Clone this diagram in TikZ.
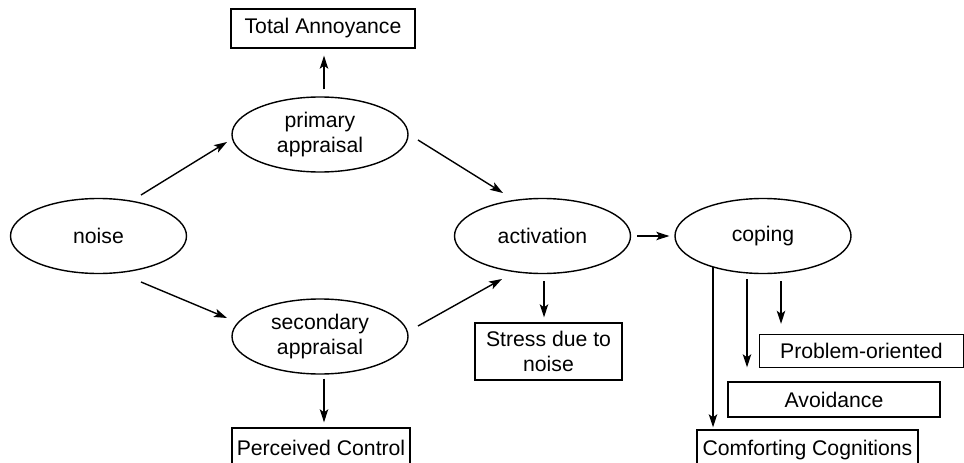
\documentclass[tikz,border=0pt]{standalone}
\usepackage{fontspec}
\setmainfont{Liberation Sans}
\usetikzlibrary{shapes.geometric,arrows.meta}
\begin{document}
\begin{tikzpicture}[x=1pt,y=-1pt,
  every node/.style={font=\fontsize{21.2}{25}\selectfont, align=center},
  oval/.style={draw, ellipse, line width=1.4pt, inner sep=0pt, minimum width=176pt, minimum height=75pt},
  boxnode/.style={draw, rectangle, line width=1.4pt, inner sep=0pt},
  arr/.style={line width=1.4pt, -{Stealth[length=13pt,width=8.5pt,inset=3pt]}}]
\clip (0,0) rectangle (964,463);
\fill[white] (0,0) rectangle (964,463);
% ellipses
\node[oval] (noise) at (98.5,236) {noise};
\node[oval] (pa) at (320,134.5) {primary\\appraisal};
\node[oval] (sa) at (320,336.5) {secondary\\appraisal};
\node[oval] (act) at (542.5,236) {activation};
\node[oval] (cop) at (763,236) {coping};
% boxes
\node[boxnode, minimum width=184pt, minimum height=39pt] (ta) at (323,28.5) {Total Annoyance};
\node[boxnode, minimum width=147pt, minimum height=57pt] (st) at (548.5,351.5) {Stress due to\\noise};
\node[boxnode, minimum width=178pt, minimum height=40pt] (pc) at (321,448) {Perceived Control};
\node[boxnode, minimum width=204pt, minimum height=33pt] (po) at (861.5,351) {Problem-oriented};
\node[boxnode, minimum width=212pt, minimum height=35pt] (av) at (834,399.5) {Avoidance};
\node[boxnode, minimum width=221pt, minimum height=40pt] (cc) at (807.5,450) {Comforting Cognitions};
% connector end points
\coordinate (n1) at (141,195);
\coordinate (p1) at (227,142);
\coordinate (n2) at (141,282);
\coordinate (s1) at (227,318);
\coordinate (p2) at (418,140);
\coordinate (a1) at (503,193);
\coordinate (s2) at (418,326);
\coordinate (a2) at (502,279);
\coordinate (c1) at (713,267);
\coordinate (c2) at (747,279);
\coordinate (c3) at (781,281);
% connectors
\draw[arr] (n1) -- (p1);
\draw[arr] (n2) -- (s1);
\draw[arr] (p2) -- (a1);
\draw[arr] (s2) -- (a2);
\draw[arr, shorten <=7pt, shorten >=7pt] (pa.north -| 324,0) -- (ta.south -| 324,0);
\draw[arr, shorten <=4pt, shorten >=5pt] (sa.south -| 324,0) -- (pc.north -| 324,0);
\draw[arr, shorten <=6pt, shorten >=5pt] (act.east) -- (cop.west);
\draw[arr, shorten <=7pt, shorten >=5pt] (act.south -| 544,0) -- (st.north -| 544,0);
\draw[arr, shorten >=2pt] (c1) -- (cc.north -| c1);
\draw[arr, shorten >=14pt] (c2) -- (av.north -| c2);
\draw[arr, shorten >=10pt] (c3) -- (po.north -| c3);
\end{tikzpicture}
\end{document}
